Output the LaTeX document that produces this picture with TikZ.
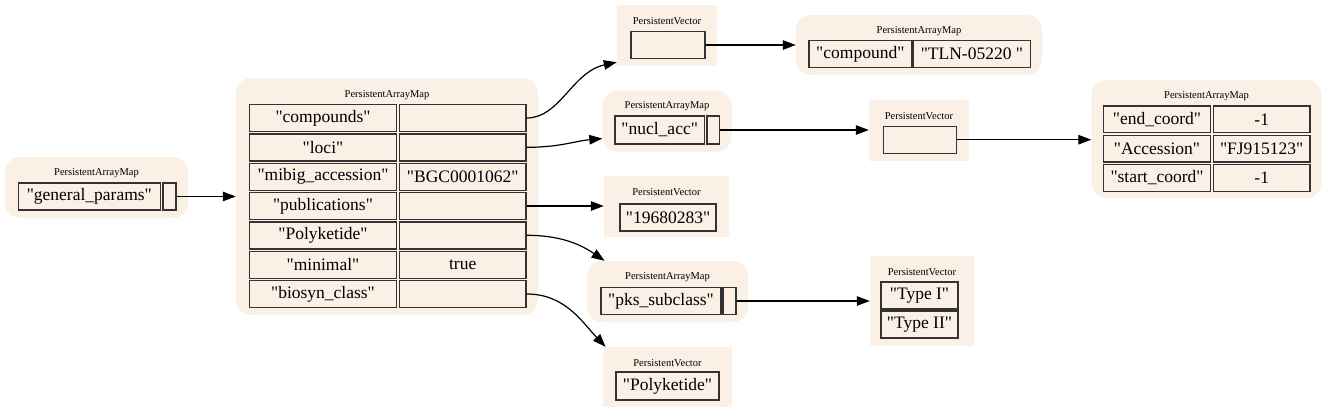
\documentclass[tikz,border=0pt]{standalone}
\usepackage{fontspec}
\setmainfont{Liberation Serif}[Ligatures=TeXOff]
\usepackage{tikz}
\usetikzlibrary{arrows.meta}
\definecolor{linen}{HTML}{FAF0E6}

\begin{document}
\begin{tikzpicture}[
		  x=1pt, y=-1pt,
		  cell/.style = {draw=black!80, line width=1.4pt, fill=linen, minimum height=27pt, inner sep=0pt, font=\fontsize{17.5}{20}\selectfont},
		  ptitle/.style = {inner sep=0pt, font=\fontsize{10.5}{12}\selectfont},
		  mapbox/.style = {fill=linen, rounded corners=15pt, inner sep=0pt},
		  vecbox/.style = {fill=linen, inner sep=0pt},
		  link/.style = {-{Triangle[length=13pt,width=9.5pt]}, line width=1.2pt}
		]
		  \useasboundingbox (0,0) rectangle (1328,413);

		  % backgrounds
		  \node[mapbox, minimum width=183pt, minimum height=61pt] (mapgen) at (96.5,187.5) {};
		  \node[mapbox, minimum width=302pt, minimum height=237pt] (mapmain) at (387,196.5) {};
		  \node[vecbox, minimum width=100pt, minimum height=61pt] (veccomp) at (667,35.5) {};
		  \node[mapbox, minimum width=246pt, minimum height=60pt] (mapcomp) at (919,45) {};
		  \node[mapbox, minimum width=129pt, minimum height=61pt] (mapnucl) at (667,121.2) {};
		  \node[vecbox, minimum width=100pt, minimum height=61pt] (vecloci) at (919,130.5) {};
		  \node[mapbox, minimum width=230pt, minimum height=118pt] (maploci) at (1206.5,139.2) {};
		  \node[vecbox, minimum width=125pt, minimum height=61pt] (vecpub) at (666.5,206.5) {};
		  \node[mapbox, minimum width=161pt, minimum height=61pt] (mapsub) at (667.5,291.5) {};
		  \node[vecbox, minimum width=104pt, minimum height=90pt] (vecsub) at (922,301) {};
		  \node[vecbox, minimum width=129pt, minimum height=60pt] (vecclass) at (667.5,377) {};

		  % titles
		  \node[ptitle] (tgen) at (96.5,173) {PersistentArrayMap};
		  \node[ptitle] (tmain) at (387,95) {PersistentArrayMap};
		  \node[ptitle] (tvcomp) at (667,21) {PersistentVector};
		  \node[ptitle] (tcomp) at (919,31) {PersistentArrayMap};
		  \node[ptitle] (tnucl) at (667,106.5) {PersistentArrayMap};
		  \node[ptitle] (tvloci) at (919,116) {PersistentVector};
		  \node[ptitle] (tloci) at (1206.5,96.5) {PersistentArrayMap};
		  \node[ptitle] (tpub) at (666.5,192) {PersistentVector};
		  \node[ptitle] (tsub) at (667.5,277) {PersistentArrayMap};
		  \node[ptitle] (tvsub) at (922,272) {PersistentVector};
		  \node[ptitle] (tclass) at (667.5,363) {PersistentVector};

		  % cells
		  \node[cell, minimum width=142pt] (genkey) at (89.3,196.5) {"general\_params"};
		  \node[cell, minimum width=13pt] (genval) at (169.5,196.5) {};

		  \node[cell, minimum width=147.4pt] (mk1) at (323,118) {"compounds"};
		  \node[cell, minimum width=126.7pt] (mv1) at (462.7,118) {};
		  \node[cell, minimum width=147.4pt] (mk2) at (323,147.3) {"loci"};
		  \node[cell, minimum width=126.7pt] (mv2) at (462.7,147.3) {};
		  \node[cell, minimum width=147.4pt] (mk3) at (323,176.7) {"mibig\_accession"};
		  \node[cell, minimum width=126.7pt] (mv3) at (462.7,176.7) {"BGC0001062"};
		  \node[cell, minimum width=147.4pt] (mk4) at (323,206) {"publications"};
		  \node[cell, minimum width=126.7pt] (mv4) at (462.7,206) {};
		  \node[cell, minimum width=147.4pt] (mk5) at (323,235.3) {"Polyketide"};
		  \node[cell, minimum width=126.7pt] (mv5) at (462.7,235.3) {};
		  \node[cell, minimum width=147.4pt] (mk6) at (323,264.7) {"minimal"};
		  \node[cell, minimum width=126.7pt] (mv6) at (462.7,264.7) {true};
		  \node[cell, minimum width=147.4pt] (mk7) at (323,294) {"biosyn\_class"};
		  \node[cell, minimum width=126.7pt] (mv7) at (462.7,294) {};

		  \node[cell, minimum width=74pt] (vcompval) at (668,45) {};
		  \node[cell, minimum width=102.7pt] (compkey) at (860.3,54.2) {"compound"};
		  \node[cell, minimum width=117.7pt] (compval) at (971.9,54.2) {"TLN-05220\ "};

		  \node[cell, minimum width=89.3pt, minimum height=28pt] (nuclkey) at (659.7,130) {"nucl\_acc"};
		  \node[cell, minimum width=12.3pt, minimum height=28pt] (nuclval) at (713.2,130) {};
		  \node[cell, minimum width=73.4pt] (vlocival) at (920,139.7) {};

		  \node[cell, minimum width=107.4pt, minimum height=26.7pt] (lk1) at (1157,119.3) {"end\_coord"};
		  \node[cell, minimum width=96.7pt, minimum height=26.7pt] (lv1) at (1261.7,119.3) {-1};
		  \node[cell, minimum width=107.4pt, minimum height=26.7pt] (lk2) at (1157,148.7) {"Accession"};
		  \node[cell, minimum width=96.7pt, minimum height=26.7pt] (lv2) at (1261.7,148.7) {"FJ915123"};
		  \node[cell, minimum width=107.4pt, minimum height=26.7pt] (lk3) at (1157,178) {"start\_coord"};
		  \node[cell, minimum width=96.7pt, minimum height=26.7pt] (lv3) at (1261.7,178) {-1};

		  \node[cell, minimum width=96pt] (pubval) at (668,217.5) {"19680283"};

		  \node[cell, minimum width=120pt] (subkey) at (661,301) {"pks\_subclass"};
		  \node[cell, minimum width=13pt] (subval) at (729.5,301) {};
		  \node[cell, minimum width=77pt] (type1) at (919.5,295.5) {"Type I"};
		  \node[cell, minimum width=77pt] (type2) at (919.5,324.5) {"Type II"};

		  \node[cell, minimum width=103pt, minimum height=28pt] (classval) at (667.5,386) {"Polyketide"};

		  % links
		  \draw[link] (genval.east) -- (genval.east -| mapmain.west);
		  \draw[link] (mv1.east) .. controls (560,118) and (572,72) .. (veccomp.208);
		  \draw[link] (mv2.east) .. controls (560,147.3) and (575,141) .. (mapnucl.195);
		  \draw[link] (mv4.east) -- (mv4.east -| vecpub.west);
		  \draw[link] (mv5.east) .. controls (560,235.3) and (580,244) .. (mapsub.154);
		  \draw[link] (mv7.east) .. controls (565,294) and (582,322) .. (vecclass.154);
		  \draw[link] (vcompval.east) -- (vcompval.east -| mapcomp.west);
		  \draw[link] (nuclval.east) -- (nuclval.east -| vecloci.west);
		  \draw[link] (vlocival.east) -- (vlocival.east -| maploci.west);
		  \draw[link] (subval.east) -- (subval.east -| vecsub.west);
\end{tikzpicture}
\end{document}
